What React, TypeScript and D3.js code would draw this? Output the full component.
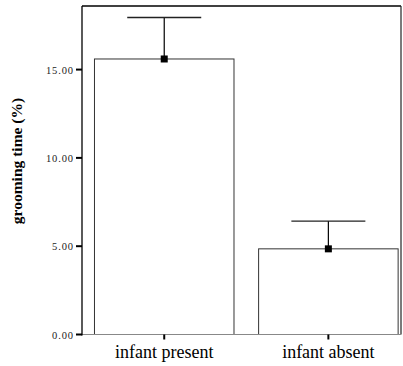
import React from "react";
import * as d3 from "d3";

const categories = ["infant present", "infant absent"];
const means = [15.6, 4.85];
const upperErr = [17.95, 6.42];
const yTicks = [0, 5, 10, 15];

const W = 403;
const H = 366;
const left = 82;
const right = 401;
const top = 6;
const bottom = 334.5;

export default function App() {
  const y = d3.scaleLinear().domain([0, 18.6]).range([bottom, top]);
  const x = d3
    .scaleBand<string>()
    .domain(categories)
    .range([left, 410.6])
    .paddingInner(0.15)
    .paddingOuter(0.076);
  const bw = x.bandwidth();
  const capHalf = 37;
  const fmt = d3.format(".2f");

  return (
    <svg
      width={W}
      height={H}
      style={{ position: "absolute", left: 0, top: 0, background: "#fff" }}
      fontFamily="'Liberation Serif', 'Times New Roman', serif"
    >
      {/* bars */}
      {categories.map((c, i) => (
        <rect
          key={c}
          x={x(c)!}
          y={y(means[i])}
          width={bw}
          height={bottom - y(means[i])}
          fill="#fff"
          stroke="#333"
          strokeWidth={1}
        />
      ))}
      {/* frame */}
      <line x1={left} x2={right} y1={top} y2={top} stroke="#000" strokeWidth={1.5} />
      <line x1={right} x2={right} y1={top} y2={bottom} stroke="#222" strokeWidth={1.2} />
      <line x1={left} x2={right} y1={bottom} y2={bottom} stroke="#888" strokeWidth={1.2} />
      <line x1={left} x2={left} y1={top} y2={bottom + 1} stroke="#000" strokeWidth={1.3} />

      {/* error bars */}
      {categories.map((c, i) => {
        const cx = x(c)! + bw / 2;
        return (
          <g key={c + "e"}>
            <line x1={cx} x2={cx} y1={y(upperErr[i])} y2={y(means[i])} stroke="#000" strokeWidth={1.2} />
            <line
              x1={cx - capHalf}
              x2={cx + capHalf}
              y1={y(upperErr[i])}
              y2={y(upperErr[i])}
              stroke="#222"
              strokeWidth={1.3}
            />
            <rect x={cx - 3.5} y={y(means[i]) - 3.5} width={7} height={7} fill="#000" />
          </g>
        );
      })}

      {/* y axis ticks */}
      {yTicks.map((t) => (
        <g key={t}>
          <line x1={left - 6} x2={left} y1={y(t)} y2={y(t)} stroke="#000" strokeWidth={2} />
          <text
            x={74}
            y={y(t) + 4}
            textAnchor="end"
            fontSize={10.5}
            letterSpacing={0.9}
            fill="#222"
          >
            {fmt(t)}
          </text>
        </g>
      ))}

      {/* x axis ticks + labels */}
      {categories.map((c) => {
        const cx = x(c)! + bw / 2;
        return (
          <g key={c + "x"}>
            <line x1={cx} x2={cx} y1={bottom} y2={bottom + 5} stroke="#000" strokeWidth={2} />
            <text x={cx} y={358} textAnchor="middle" fontSize={18} fill="#000">
              {c}
            </text>
          </g>
        );
      })}

      {/* y title */}
      <text
        transform={`translate(22, 161) rotate(-90)`}
        textAnchor="middle"
        fontSize={15.5}
        fontWeight="bold"
        fill="#000"
      >
        grooming time (%)
      </text>
    </svg>
  );
}
